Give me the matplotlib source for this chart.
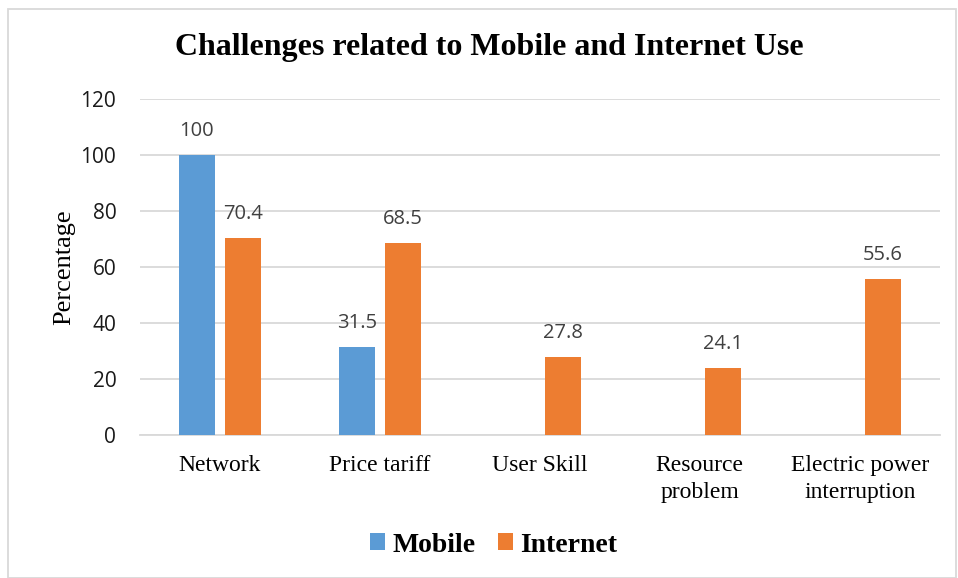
import matplotlib.pyplot as plt
from matplotlib.patches import Rectangle
import numpy as np

# Data
categories = ["Network", "Price tariff", "User Skill", "Resource\nproblem", "Electric power\ninterruption"]
mobile = [100, 31.5, None, None, None]
internet = [70.4, 68.5, 27.8, 24.1, 55.6]
yticks = [0, 20, 40, 60, 80, 100, 120]

c_mobile = "#5B9BD5"
c_internet = "#ED7D31"
serif = ["Liberation Serif", "DejaVu Serif"]
sans = ["Open Sans", "DejaVu Sans"]

fig = plt.figure(figsize=(9.58, 5.78), dpi=100)
ax = fig.add_axes([0.146, 0.247, 0.835, 0.582])

x = np.arange(len(categories))
w = 0.225
off = 0.144

mob_vals = [np.nan if v is None else v for v in mobile]
ax.bar(x - off, mob_vals, w, color=c_mobile, label="Mobile", zorder=3)
ax.bar(x + off, internet, w, color=c_internet, label="Internet", zorder=3)

# Data labels
for xi, v in zip(x, mobile):
    if v is not None:
        ax.annotate(f"{v:g}", (xi - off, v), xytext=(0, 10), textcoords="offset points",
                    ha="center", va="bottom", fontsize=14.5, color="#404040", family=sans)
for xi, v in zip(x, internet):
    ax.annotate(f"{v:g}", (xi + off, v), xytext=(0, 10), textcoords="offset points",
                ha="center", va="bottom", fontsize=14.5, color="#404040", family=sans)

ax.set_xlim(-0.5, len(categories) - 0.5)
ax.set_ylim(0, 120)
ax.set_yticks(yticks)
ax.set_yticklabels([str(t) for t in yticks], fontsize=15, color="#1a1a1a", family=sans)
ax.set_xticks(x)
ax.set_xticklabels(categories, fontsize=17, family=serif, linespacing=1.4)
ax.tick_params(length=0)
ax.tick_params(axis="x", pad=14)
ax.tick_params(axis="y", pad=17)
ax.grid(axis="y", color="#D9D9D9", lw=1.3, zorder=0)
for s in ["top", "right", "left"]:
    ax.spines[s].set_visible(False)
ax.spines["bottom"].set_color("#D9D9D9")
ax.spines["bottom"].set_linewidth(1.3)

ax.set_ylabel("Percentage", fontsize=19, family=serif, labelpad=4)

fig.text(0.511, 0.918, "Challenges related to Mobile and Internet Use", ha="center", va="center",
         fontsize=23, fontweight="bold", family=serif)

fig.legend(loc="center", bbox_to_anchor=(0.515, 0.057), ncol=2, frameon=False,
           prop={"family": serif, "weight": "bold", "size": 20},
           handlelength=0.55, handleheight=0.55, handletextpad=0.25, columnspacing=0.8)

# Outer border
fig.patches.append(Rectangle((0.008, 0.0), 0.99, 0.985, transform=fig.transFigure,
                             fill=False, edgecolor="#D9D9D9", lw=1.3))

fig.savefig("out.png", dpi=100)
